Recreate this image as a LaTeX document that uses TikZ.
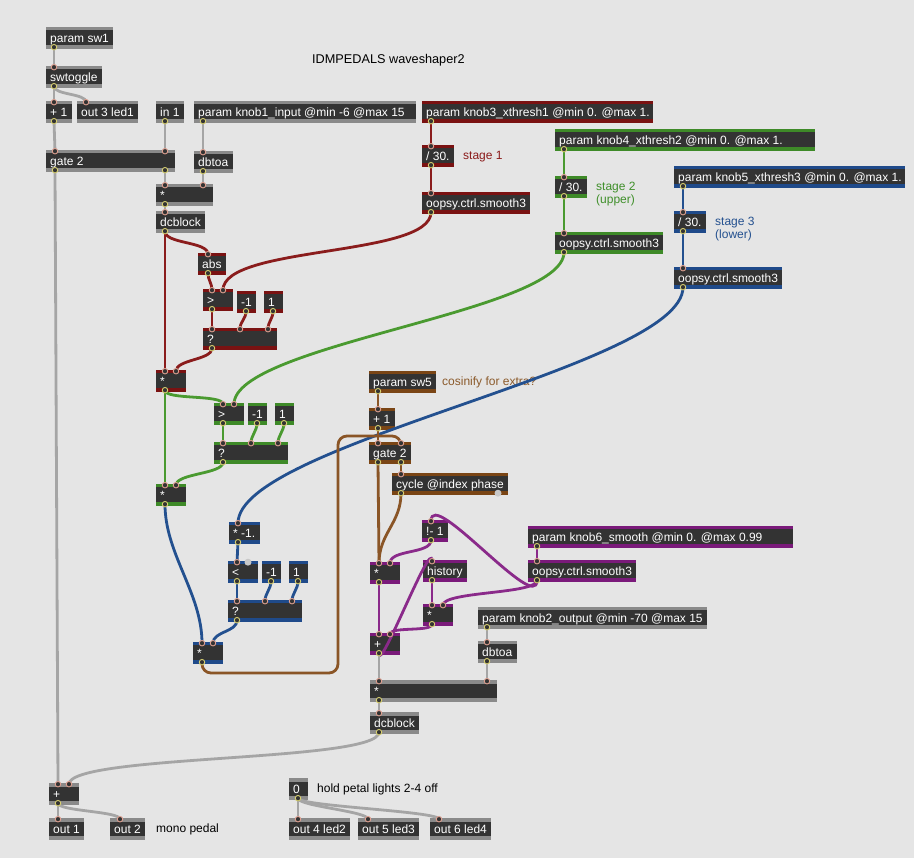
\documentclass[tikz,border=0pt]{standalone}
\usepackage{fontspec}
\setmainfont{Liberation Sans}
\definecolor{bg}{HTML}{E5E5E5}
\definecolor{mxdark}{HTML}{333333}
\definecolor{sgray}{HTML}{8A8A8A}
\definecolor{sred}{HTML}{7A1212}
\definecolor{sgreen}{HTML}{3E8A28}
\definecolor{sblue}{HTML}{1F4A8A}
\definecolor{sbrown}{HTML}{7A4515}
\definecolor{spurple}{HTML}{7A1A7A}
\definecolor{cgray}{HTML}{A5A5A5}
\definecolor{cred}{HTML}{8A1C1C}
\definecolor{cgreen}{HTML}{4A9A30}
\definecolor{cblue}{HTML}{23508F}
\definecolor{cbrown}{HTML}{8A5526}
\definecolor{cpurple}{HTML}{8A2A8A}
\definecolor{pinpink}{HTML}{E0A090}
\definecolor{pinyel}{HTML}{D8D070}
\definecolor{dotgray}{HTML}{C8C8C8}
\definecolor{tred}{HTML}{8B1A1A}
\definecolor{tgreen}{HTML}{3F8F2A}
\definecolor{tblue}{HTML}{23508F}
\definecolor{tbrown}{HTML}{8B5A2B}
\pgfdeclarelayer{cab}
\pgfdeclarelayer{pins}
\pgfsetlayers{main,cab,pins}
\newcommand\mx[6]{%
  \node[inner sep=0, minimum width=#4, minimum height=22, anchor=north west, fill=#5] (#1) at (#2,#3) {};
  \fill[mxdark] ({#2},{#3+3.5}) rectangle ++(#4,14.5);
  \node[mxtext] (#1t) at ({#2+4},{#3+15.3}) {#6};
}
\newcommand\pI[3]{\node[pinI] (#1) at (#2,#3) {};}
\newcommand\pO[3]{\node[pinO] (#1) at (#2,#3) {};}
\newcommand\pD[3]{\node[pinD] (#1) at (#2,#3) {};}
\newcommand\cab[5]{\draw[#1] (#2.center) .. controls +(0,#4) and +(0,-#5) .. (#3.center);}
\newcommand\lin[3]{\draw[#1] (#2.center) -- (#3.center);}
\tikzset{
  mxtext/.style={text=white, font=\fontsize{12}{14}\selectfont, inner sep=0, anchor=base west},
  cmt/.style={font=\fontsize{12}{14}\selectfont, inner sep=0, anchor=base west},
  pinI/.style={circle, inner sep=0, minimum size=5.5, fill=mxdark, draw=pinpink, line width=0.9},
  pinO/.style={circle, inner sep=0, minimum size=5.5, fill=mxdark, draw=pinyel, line width=0.9},
  pinD/.style={circle, inner sep=0, minimum size=7, fill=dotgray},
  cg/.style={draw=cgray, line width=2.8},
  cr/.style={draw=cred, line width=2.8},
  cgr/.style={draw=cgreen, line width=2.8},
  cb/.style={draw=cblue, line width=2.8},
  cbr/.style={draw=cbrown, line width=2.8},
  cp/.style={draw=cpurple, line width=2.8},
}
\begin{document}
\begin{tikzpicture}[x=1pt,y=-1pt]
\fill[bg] (0,0) rectangle (914,858);
\useasboundingbox (0,0) rectangle (914,858);
% ---------------- boxes
\mx{sw1}{46}{27}{67}{sgray}{param sw1}
\mx{swt}{46}{66}{56}{sgray}{swtoggle}
\mx{p1}{46}{101}{26}{sgray}{+ 1}
\mx{o3}{77}{101}{61}{sgray}{out 3 led1}
\mx{in1}{156}{101}{28}{sgray}{in 1}
\mx{k1}{194}{101}{222}{sgray}{param knob1\_input @min -6 @max 15}
\mx{k3}{422}{101}{231}{sred}{param knob3\_xthresh1 @min 0. @max 1.}
\mx{g2}{46}{150}{129}{sgray}{gate 2}
\mx{db1}{194}{151}{39}{sgray}{dbtoa}
\mx{d3a}{422}{145}{32}{sred}{/ 30.}
\mx{k4}{555}{129}{260}{sgreen}{param knob4\_xthresh2 @min 0. @max 1.}
\mx{m1}{156}{184}{57}{sgray}{*}
\mx{dc1}{156}{211}{49}{sgray}{dcblock}
\mx{d3b}{555}{176}{32}{sgreen}{/ 30.}
\mx{s3a}{422}{192}{108}{sred}{oopsy.ctrl.smooth3}
\mx{k5}{674}{166}{231}{sblue}{param knob5\_xthresh3 @min 0. @max 1.}
\mx{s3b}{555}{232}{108}{sgreen}{oopsy.ctrl.smooth3}
\mx{d3c}{674}{211}{32}{sblue}{/ 30.}
\mx{abs}{198}{253}{28}{sred}{abs}
\mx{s3c}{674}{267}{108}{sblue}{oopsy.ctrl.smooth3}
\mx{gtA}{203}{289}{30}{sred}{>}
\mx{nA}{237}{291}{19}{sred}{-1}
\mx{oA}{264}{291}{19}{sred}{1}
\mx{qA}{203}{328}{74}{sred}{?}
\mx{mA}{156}{370}{30}{sred}{*}
\mx{sw5}{369}{371}{67}{sbrown}{param sw5}
\mx{gtB}{214}{403}{30}{sgreen}{>}
\mx{nB}{248}{403}{19}{sgreen}{-1}
\mx{oB}{275}{403}{19}{sgreen}{1}
\mx{pb}{369}{408}{26}{sbrown}{+ 1}
\mx{qB}{214}{442}{74}{sgreen}{?}
\mx{gb}{369}{442}{42}{sbrown}{gate 2}
\mx{cyc}{392}{473}{116}{sbrown}{cycle @index phase}
\mx{mB}{156}{484}{30}{sgreen}{*}
\mx{nm}{422}{520}{26}{spurple}{!- 1}
\mx{mng}{229}{522}{31}{sblue}{* -1.}
\mx{k6}{528}{526}{265}{spurple}{param knob6\_smooth @min 0. @max 0.99}
\mx{ltC}{228}{561}{30}{sblue}{<}
\mx{nC}{262}{561}{19}{sblue}{-1}
\mx{oC}{289}{561}{19}{sblue}{1}
\mx{mP}{370}{562}{30}{spurple}{*}
\mx{hist}{423}{560}{44}{spurple}{history}
\mx{s3d}{528}{560}{108}{spurple}{oopsy.ctrl.smooth3}
\mx{qC}{228}{600}{74}{sblue}{?}
\mx{mQ}{423}{604}{30}{spurple}{*}
\mx{k2}{478}{607}{229}{sgray}{param knob2\_output @min -70 @max 15}
\mx{plP}{370}{633}{30}{spurple}{+}
\mx{mC}{193}{642}{30}{sblue}{*}
\mx{db2}{478}{641}{39}{sgray}{dbtoa}
\mx{m2}{370}{680}{127}{sgray}{*}
\mx{dc2}{370}{712}{49}{sgray}{dcblock}
\mx{zero}{289}{778}{19}{sgray}{0}
\mx{plO}{49}{783}{30}{sgray}{+}
\mx{out1}{49}{818}{35}{sgray}{out 1}
\mx{out2}{110}{818}{35}{sgray}{out 2}
\mx{out4}{289}{818}{61}{sgray}{out 4 led2}
\mx{out5}{358}{818}{61}{sgray}{out 5 led3}
\mx{out6}{430}{818}{61}{sgray}{out 6 led4}
% ---------------- comments
\node[cmt, font=\fontsize{12.7}{15}\selectfont] (title) at (312,63.6) {IDMPEDALS waveshaper2};
\node[cmt, text=tred] (c1) at (463,159.3) {stage 1};
\node[cmt, text=tgreen] (c2a) at (596,190.3) {stage 2};
\node[cmt, text=tgreen] (c2b) at (596,203.3) {(upper)};
\node[cmt, text=tblue] (c3a) at (715,225.3) {stage 3};
\node[cmt, text=tblue] (c3b) at (715,238.3) {(lower)};
\node[cmt, text=tbrown] (c4) at (442,385.3) {cosinify for extra?};
\node[cmt] (c5) at (317,792.3) {hold petal lights 2-4 off};
\node[cmt] (c6) at (156,832.3) {mono pedal};
% ---------------- pins
\begin{pgfonlayer}{pins}
\pO{sw1o}{54}{47.2}
\pI{swti}{54}{67.2} \pO{swto}{54}{86.2}
\pI{p1i}{54}{102.2} \pO{p1o}{54}{121.2}
\pI{o3i}{86}{102.2}
\pO{in1o}{165}{121.2}
\pO{k1o}{203}{121.2}
\pI{g2i1}{55}{151.2} \pI{g2i2}{165}{151.2} \pO{g2o1}{55}{170.2} \pO{g2o2}{165}{170.2}
\pI{db1i}{203}{152.2} \pO{db1o}{203}{171.2}
\pI{m1i1}{165}{185.2} \pI{m1i2}{203}{185.2} \pO{m1o}{165}{204.2}
\pI{dc1i}{165}{212.2} \pO{dc1o}{165}{231.2}
\pO{k3o}{431}{121.2}
\pI{d3ai}{431}{146.2} \pO{d3ao}{431}{165.2}
\pI{s3ai}{431}{193.2} \pO{s3ao}{431}{212.2}
\pI{absi}{208}{254.2} \pO{abso}{208}{273.2}
\pI{gtAi1}{212}{290.2} \pI{gtAi2}{223}{290.2} \pO{gtAo}{212}{309.2}
\pO{nAo}{246}{311.2} \pO{oAo}{273}{311.2}
\pI{qAi1}{212}{329.2} \pI{qAi2}{240}{329.2} \pI{qAi3}{268}{329.2} \pO{qAo}{212}{348.2}
\pI{mAi1}{165}{371.2} \pI{mAi2}{176}{371.2} \pO{mAo}{165}{390.2}
\pO{k4o}{564}{149.2}
\pI{d3bi}{564}{177.2} \pO{d3bo}{564}{196.2}
\pI{s3bi}{564}{233.2} \pO{s3bo}{564}{252.2}
\pI{gtBi1}{223}{404.2} \pI{gtBi2}{234}{404.2} \pO{gtBo}{223}{423.2}
\pO{nBo}{257}{423.2} \pO{oBo}{284}{423.2}
\pI{qBi1}{223}{443.2} \pI{qBi2}{251}{443.2} \pI{qBi3}{278}{443.2} \pO{qBo}{223}{462.2}
\pI{mBi1}{165}{485.2} \pI{mBi2}{176}{485.2} \pO{mBo}{165}{504.2}
\pO{k5o}{683}{186.2}
\pI{d3ci}{683}{212.2} \pO{d3co}{683}{231.2}
\pI{s3ci}{683}{268.2} \pO{s3co}{683}{287.2}
\pI{mngi}{238}{523.2} \pO{mngo}{238}{542.2}
\pI{ltCi}{237}{562.2} \pD{ltCd}{248}{562.2} \pO{ltCo}{237}{581.2}
\pO{nCo}{271}{581.2} \pO{oCo}{298}{581.2}
\pI{qCi1}{237}{601.2} \pI{qCi2}{265}{601.2} \pI{qCi3}{292}{601.2} \pO{qCo}{237}{620.2}
\pI{mCi1}{202}{643.2} \pI{mCi2}{213}{643.2} \pO{mCo}{202}{662.2}
\pO{sw5o}{378}{391.2}
\pI{pbi}{378}{409.2} \pO{pbo}{378}{428.2}
\pI{gbi1}{378}{443.2} \pI{gbi2}{401}{443.2} \pO{gbo1}{378}{462.2} \pO{gbo2}{401}{462.2}
\pI{cyci}{401}{474.2} \pO{cyco}{401}{493.2} \pD{cycd}{498}{493.2}
\pI{nmi}{431}{521.2} \pO{nmo}{431}{540.2}
\pO{k6o}{537}{546.2}
\pI{mPi1}{379}{563.2} \pI{mPi2}{390}{563.2} \pO{mPo}{379}{582.2}
\pI{histi}{432}{561.2} \pO{histo}{432}{580.2}
\pI{s3di}{537}{561.2} \pO{s3do}{537}{580.2}
\pI{mQi1}{432}{605.2} \pI{mQi2}{443}{605.2} \pO{mQo}{432}{624.2}
\pI{plPi1}{379}{634.2} \pI{plPi2}{390}{634.2} \pO{plPo}{379}{653.2}
\pO{k2o}{487}{627.2}
\pI{db2i}{487}{642.2} \pO{db2o}{487}{661.2}
\pI{m2i1}{379}{681.2} \pI{m2i2}{487}{681.2} \pO{m2o}{379}{700.2}
\pI{dc2i}{379}{713.2} \pO{dc2o}{379}{732.2}
\pO{zeroo}{298}{798.2}
\pI{plOi1}{58}{784.2} \pI{plOi2}{69}{784.2} \pO{plOo}{58}{803.2}
\pI{out1i}{58}{819.2} \pI{out2i}{120}{819.2} \pI{out4i}{298}{819.2} \pI{out5i}{368}{819.2} \pI{out6i}{439}{819.2}
\end{pgfonlayer}
% ---------------- cables
\begin{pgfonlayer}{cab}
% gray top
\lin{cg}{sw1o}{swti}
\lin{cg}{swto}{p1i}
\cab{cg}{swto}{o3i}{9}{9}
\lin{cg}{p1o}{g2i1}
\lin{cg}{in1o}{g2i2}
\lin{cg}{k1o}{db1i}
\lin{cg}{g2o2}{m1i1}
\lin{cg}{db1o}{m1i2}
\lin{cg}{m1o}{dc1i}
\lin{cg}{g2o1}{plOi1}
% red
\lin{cr}{k3o}{d3ai}
\lin{cr}{d3ao}{s3ai}
\cab{cr}{s3ao}{gtAi2}{45}{45}
\cab{cr}{dc1o}{absi}{13}{13}
\lin{cr}{dc1o}{mAi1}
\cab{cr}{abso}{gtAi1}{7}{7}
\lin{cr}{gtAo}{qAi1}
\cab{cr}{nAo}{qAi2}{8}{8}
\cab{cr}{oAo}{qAi3}{8}{8}
\cab{cr}{qAo}{mAi2}{12}{12}
% green
\lin{cgr}{k4o}{d3bi}
\lin{cgr}{d3bo}{s3bi}
\cab{cgr}{s3bo}{gtBi2}{60}{60}
\cab{cgr}{mAo}{gtBi1}{10}{10}
\lin{cgr}{mAo}{mBi1}
\lin{cgr}{gtBo}{qBi1}
\cab{cgr}{nBo}{qBi2}{8}{8}
\cab{cgr}{oBo}{qBi3}{8}{8}
\cab{cgr}{qBo}{mBi2}{12}{12}
% blue
\lin{cb}{k5o}{d3ci}
\lin{cb}{d3co}{s3ci}
\cab{cb}{s3co}{mngi}{80}{80}
\lin{cb}{mngo}{ltCi}
\lin{cb}{ltCo}{qCi1}
\cab{cb}{nCo}{qCi2}{8}{8}
\cab{cb}{oCo}{qCi3}{8}{8}
\cab{cb}{qCo}{mCi2}{12}{12}
\cab{cb}{mBo}{mCi1}{50}{50}
% brown
\lin{cbr}{sw5o}{pbi}
\lin{cbr}{pbo}{gbi1}
\lin{cbr}{gbo1}{mPi1}
\lin{cbr}{gbo2}{cyci}
\cab{cbr}{cyco}{mPi1}{30}{30}
\draw[cbr, rounded corners=9] (mCo.center) |- (338,673) |- (401,436) -- (gbi2.center);
% purple
\lin{cp}{k6o}{s3di}
\cab{cp}{nmo}{mPi2}{14}{14}
\cab{cp}{s3do}{nmi}{35}{35}
\cab{cp}{s3do}{mQi2}{14}{14}
\lin{cp}{histo}{mQi1}
\cab{cp}{mQo}{plPi2}{8}{8}
\lin{cp}{mPo}{plPi1}
\cab{cp}{plPo}{histi}{22}{25}
% gray bottom
\lin{cg}{plPo}{m2i1}
\lin{cg}{k2o}{db2i}
\lin{cg}{db2o}{m2i2}
\lin{cg}{m2o}{dc2i}
\cab{cg}{dc2o}{plOi2}{30}{30}
\lin{cg}{plOo}{out1i}
\cab{cg}{plOo}{out2i}{8}{8}
\lin{cg}{zeroo}{out4i}
\cab{cg}{zeroo}{out5i}{8}{8}
\cab{cg}{zeroo}{out6i}{8}{8}
\end{pgfonlayer}
\end{tikzpicture}
\end{document}
